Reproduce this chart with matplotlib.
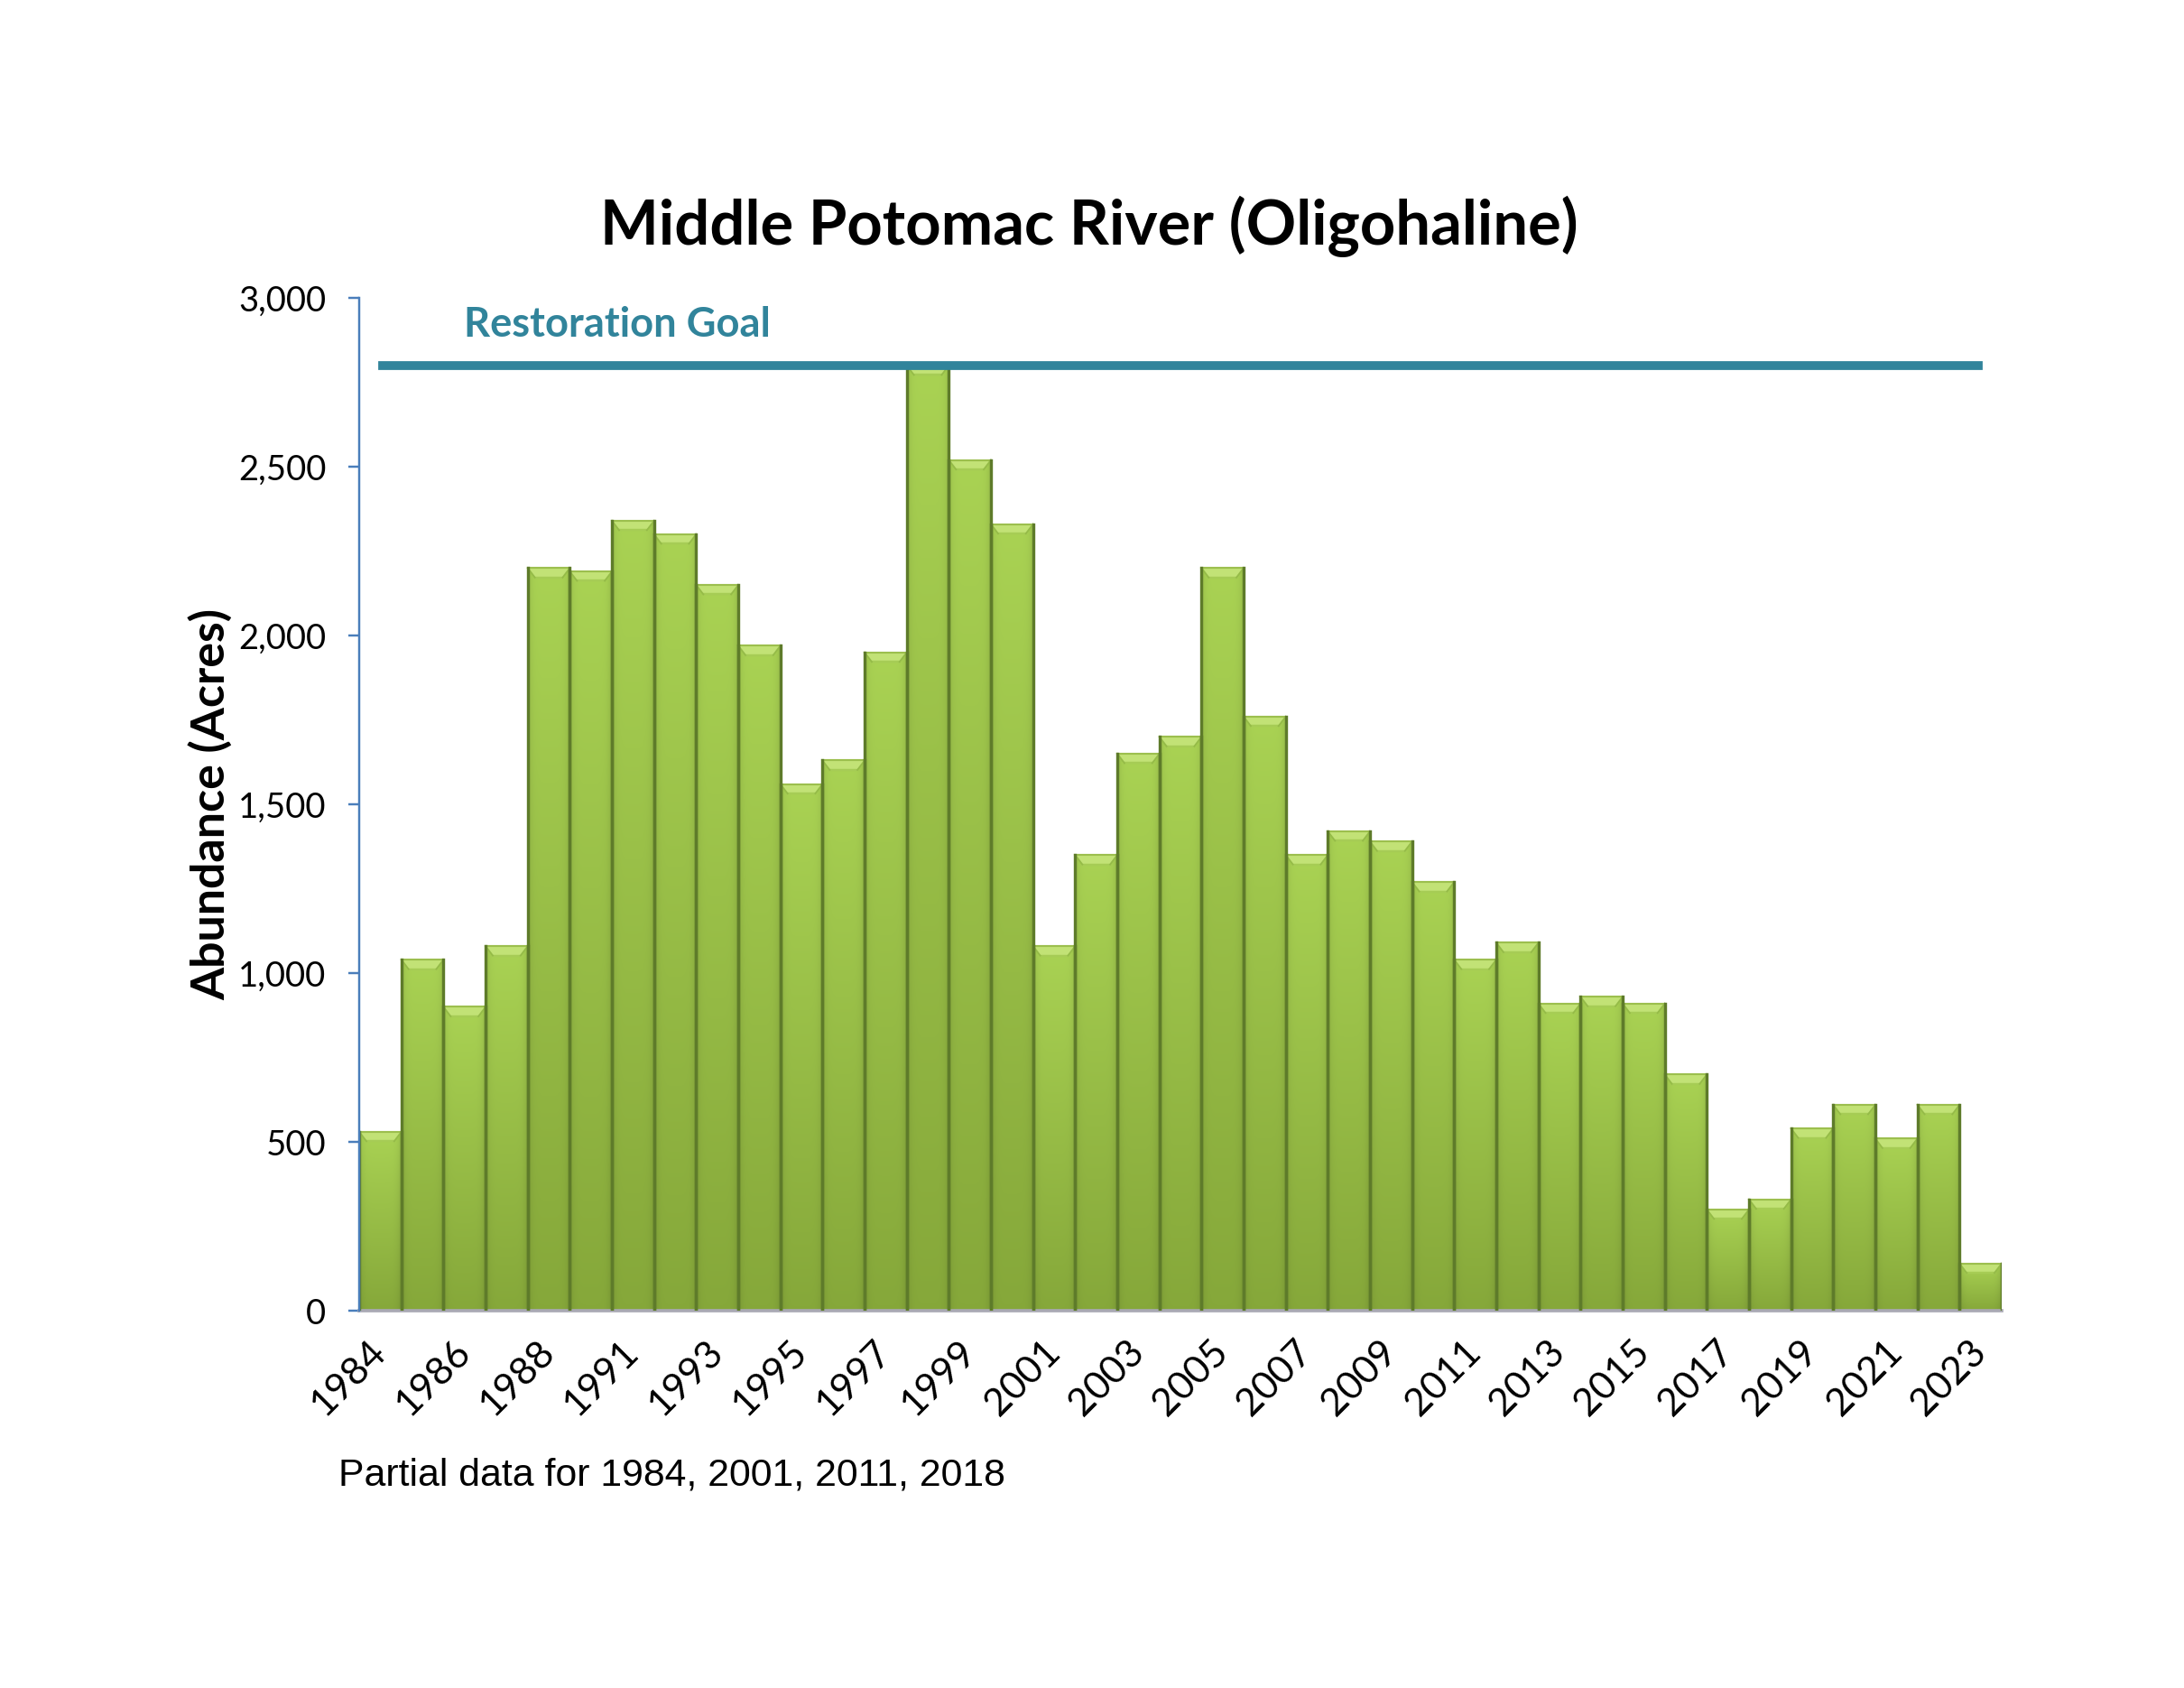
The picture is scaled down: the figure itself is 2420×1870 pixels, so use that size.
import numpy as np
import matplotlib
matplotlib.use('Agg')
import matplotlib.pyplot as plt
from matplotlib.patches import Polygon
from matplotlib.ticker import FuncFormatter

# survey years (no 1989 survey) and acres of SAV
years = [1984, 1985, 1986, 1987, 1988, 1990, 1991, 1992, 1993, 1994,
         1995, 1996, 1997, 1998, 1999, 2000, 2001, 2002, 2003, 2004,
         2005, 2006, 2007, 2008, 2009, 2010, 2011, 2012, 2013, 2014,
         2015, 2016, 2017, 2018, 2019, 2020, 2021, 2022, 2023]
acres = [530, 1040, 900, 1080, 2200, 2190, 2340, 2300, 2150, 1970,
         1560, 1630, 1950, 2800, 2520, 2330, 1080, 1350, 1650, 1700,
         2200, 1760, 1350, 1420, 1390, 1270, 1040, 1090, 910, 930,
         910, 700, 300, 330, 540, 610, 510, 610, 140]
goal = 2800
yticks = [0, 500, 1000, 1500, 2000, 2500, 3000]

calibri = ['Lato', 'DejaVu Sans']
arial = ['Liberation Sans', 'DejaVu Sans']

top_col = np.array([0xA9, 0xD2, 0x53]) / 255
bot_col = np.array([0x86, 0xA8, 0x3A]) / 255

fig = plt.figure(figsize=(11, 8.5), dpi=220)
ax = fig.add_axes([0.1645, 0.2235, 0.752, 0.600])

x = np.arange(len(years))
bars = ax.bar(x, acres, width=1.0, color='#9BC64A', edgecolor='none',
              linewidth=0, zorder=2)

# shaded fill for every bar
ny, nx = 64, 32
v = np.linspace(0, 1, ny)[:, None, None]
u = np.linspace(0, 1, nx)[None, :, None]
grad = top_col * (1 - v) + bot_col * v
grad = grad * (1 - 0.10 * np.abs(2 * u - 1) ** 6)
grad = np.clip(grad, 0, 1)
for xi, h, b in zip(x, acres, bars):
    im = ax.imshow(grad, extent=[xi - 0.5, xi + 0.5, 0, h], aspect='auto',
                   zorder=2.5, interpolation='bilinear')
    im.set_clip_path(b)
    # bevel at the top of the bar
    dx, dy = 0.17, 28
    bev = Polygon([[xi - 0.5, h], [xi + 0.5, h], [xi + 0.5 - dx, h - dy],
                   [xi - 0.5 + dx, h - dy]], closed=True,
                  facecolor='#C2E276', edgecolor='none', zorder=2.6)
    ax.add_patch(bev)
    ax.plot([xi - 0.5 + dx, xi + 0.5 - dx], [h - dy, h - dy], color='#A6CC55',
            lw=0.8, zorder=2.7)
    ax.plot([xi - 0.5, xi - 0.5 + dx], [h, h - dy], color='#95BB48', lw=0.6, zorder=2.7)
    ax.plot([xi + 0.5, xi + 0.5 - dx], [h, h - dy], color='#95BB48', lw=0.6, zorder=2.7)
    ax.plot([xi - 0.5, xi + 0.5], [h, h], color='#9CBF4E', lw=0.7, zorder=2.75)
    # dark separators on the sides
    ax.plot([xi - 0.5, xi - 0.5], [0, h], color='#5E7B2A', lw=1.1, zorder=2.8)
    ax.plot([xi + 0.5, xi + 0.5], [0, h], color='#5E7B2A', lw=1.1, zorder=2.8)

ax.axhline(goal, xmin=0.014, xmax=0.986, color='#31849B', lw=3.2, zorder=3)
ax.text(0.0636, goal + 120, 'Restoration Goal', color='#31849B', fontsize=14.8,
        fontweight='bold', family=calibri, va='center', ha='left',
        transform=ax.get_yaxis_transform())

ax.set_xlim(-0.5, len(years) - 0.5)
ax.set_ylim(0, 3000)
ax.set_yticks(yticks)
ax.yaxis.set_major_formatter(FuncFormatter(lambda val, pos: f'{int(val):,}'))
ax.tick_params(axis='y', direction='out', length=4, width=0.8, color='#4A7EBB',
               pad=8, labelsize=12.5)
for lab in ax.get_yticklabels():
    lab.set_family(calibri)

ax.set_xticks(x[::2])
ax.set_xticklabels([str(y) for y in years[::2]], rotation=45, ha='right',
                   va='center', rotation_mode='anchor', fontsize=14,
                   family=calibri)
ax.tick_params(axis='x', length=0, pad=13)

for s in ['top', 'right']:
    ax.spines[s].set_visible(False)
ax.spines['left'].set_color('#4A7EBB')
ax.spines['left'].set_linewidth(0.8)
ax.spines['left'].set_zorder(4)
ax.spines['bottom'].set_color('#A9A9B4')
ax.spines['bottom'].set_linewidth(1.2)

ax.set_ylabel('Abundance (Acres)', fontsize=17, fontweight='bold',
              family=calibri, labelpad=2)
fig.text(0.4985, 0.866, 'Middle Potomac River (Oligohaline)', fontsize=22.5,
         fontweight='bold', family=calibri, ha='center', va='center')
fig.text(0.155, 0.126, 'Partial data for 1984, 2001, 2011, 2018', fontsize=14,
         family=arial, ha='left', va='center')

fig.savefig('out.png', dpi=220)
